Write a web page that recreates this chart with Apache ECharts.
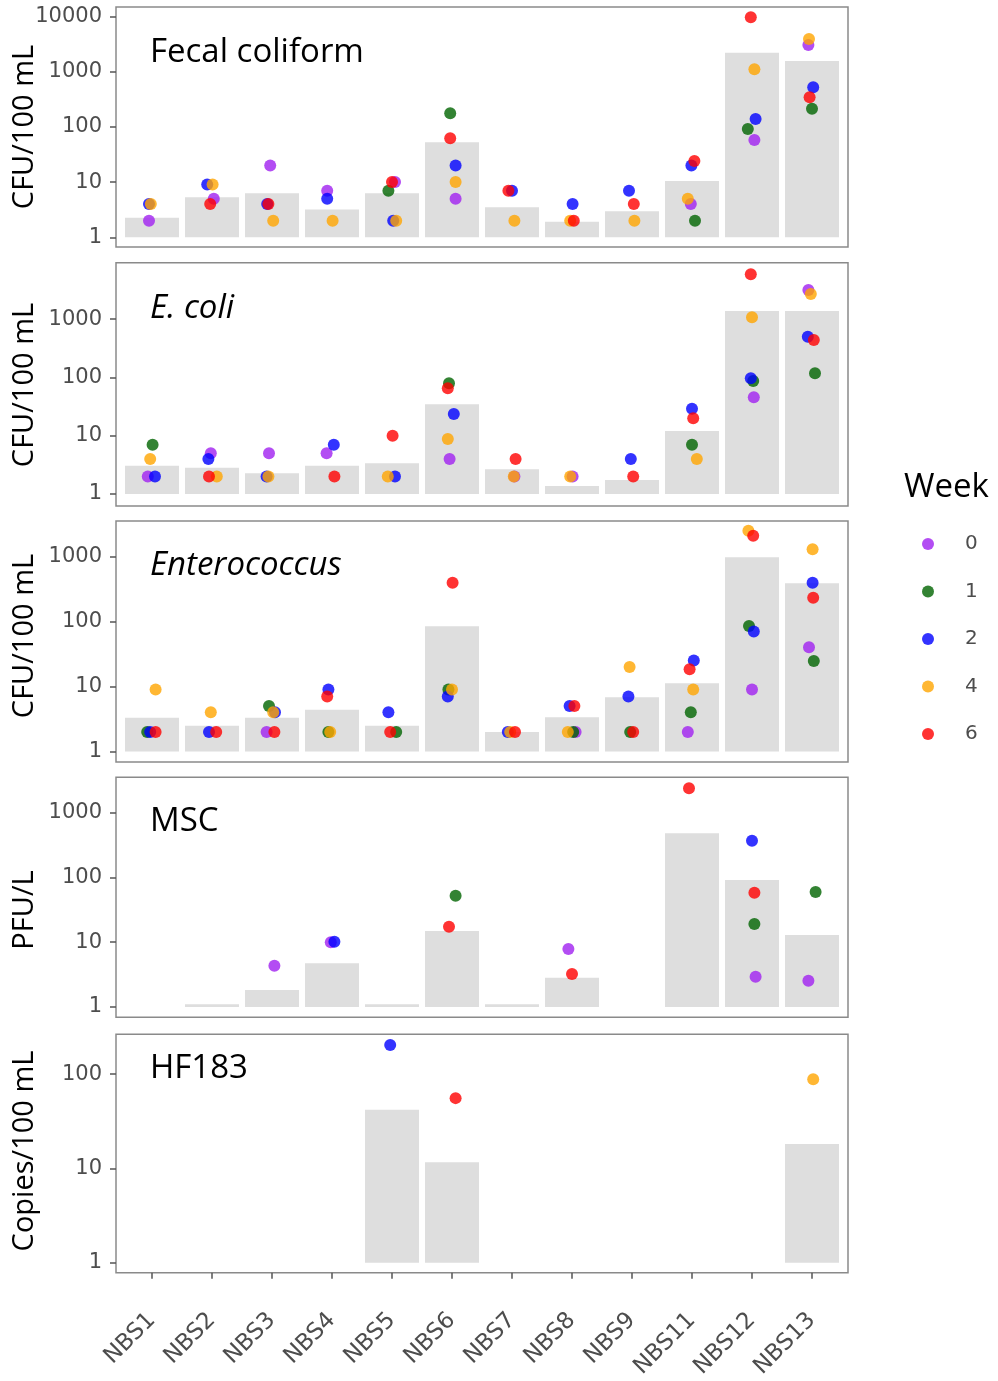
<!DOCTYPE html>
<html><head><meta charset="utf-8">
<script src="https://cdn.jsdelivr.net/npm/echarts@6/dist/echarts.min.js"></script>
<style>html,body{margin:0;padding:0;background:#fff}#c{width:998px;height:1381px}</style>
</head><body><div id="c"></div><script>
// ---------- data ----------
const categories = ["NBS1","NBS2","NBS3","NBS4","NBS5","NBS6","NBS7","NBS8","NBS9","NBS11","NBS12","NBS13"];
const weeks = ["0","1","2","4","6"];
const panelTitles = ["Fecal coliform","E. coli","Enterococcus","MSC","HF183"];
const yTitles = ["CFU/100 mL","CFU/100 mL","CFU/100 mL","PFU/L","Copies/100 mL"];
const yTickValues = [[1,10,100,1000,10000],[1,10,100,1000],[1,10,100,1000],[1,10,100,1000],[1,10,100]];

// Fecal coliform
const fecalBar = [2.26,5.3,6.27,3.2,6.27,52.6,3.5,1.92,2.96,10.5,2208,1563];
const fecalW0 = [2,5,20,7,10,5,null,null,null,4,58,3050];
const fecalW1 = [null,null,null,null,7,176,null,null,null,2,92,214];
const fecalW2 = [4,9,4,5,2,20,7,4,7,20,139,521];
const fecalW4 = [4,9,2,2,2,10,2,2,2,5,1105,3910];
const fecalW6 = [null,4,4,null,10,62,7,2,4,24,9680,344];
const fecalJ0 = [-0.05,0.03,-0.03,-0.08,0.05,0.06,0,0,0,-0.02,0.04,-0.06];
const fecalJ1 = [0,0,0,0,-0.06,-0.03,0,0,0,0.05,-0.07,0];
const fecalJ2 = [-0.05,-0.08,-0.08,-0.08,0.02,0.06,0,0.01,-0.05,-0.01,0.06,0.02];
const fecalJ4 = [-0.02,0.01,0.02,0.01,0.07,0.06,0.04,-0.03,0.04,-0.07,0.04,-0.05];
const fecalJ6 = [0,-0.03,-0.06,0,0,-0.03,-0.06,0.03,0.03,0.04,-0.02,-0.04];

// E. coli
const ecoliBar = [3.06,2.83,2.26,3.06,3.36,34.5,2.65,1.37,1.74,12.0,1377,1377];
const ecoliW0 = [2,5,5,5,null,4,2,2,null,null,45.6,3157];
const ecoliW1 = [7,null,null,null,null,79,null,null,null,7,86.7,117.6];
const ecoliW2 = [2,4,2,7,2,23.6,null,null,4,29,96.5,499];
const ecoliW4 = [4,2,2,null,2,8.8,2,2,null,4,1074,2694];
const ecoliW6 = [null,2,null,2,10,65,4,null,2,20,5870,438];
const ecoliJ0 = [-0.07,-0.02,-0.05,-0.09,0,-0.04,0.04,0.01,0,0,0.03,-0.06];
const ecoliJ1 = [0.01,0,0,0,0,-0.05,0,0,0,0,0.02,0.05];
const ecoliJ2 = [0.05,-0.06,-0.09,0.03,0.05,0.03,0,0,-0.02,0,-0.02,-0.07];
const ecoliJ4 = [-0.03,0.08,-0.06,0,-0.07,-0.07,0.03,-0.03,0,0.08,0,-0.02];
const ecoliJ6 = [0,-0.05,0,0.04,0.01,-0.07,0.06,0,0.02,0.02,-0.02,0.03];

// Enterococcus
const enteroBar = [3.31,2.49,3.31,4.4,2.49,84.4,2.0,3.36,6.8,11.2,972,387];
const enteroW0 = [null,null,2,null,null,null,null,2,null,2,9,40];
const enteroW1 = [2,null,5,2,2,9,null,2,2,4,85,24.7];
const enteroW2 = [2,2,4,9,4,7,2,5,7,25,70,395];
const enteroW4 = [9,4,4,2,null,9,2,2,20,9,2495,1291];
const enteroW6 = [2,2,2,7,2,395,2,5,2,18.4,2090,232];
const enteroJ0 = [0,0,-0.09,0,0,0,0,0.06,0,-0.07,0,-0.05];
const enteroJ1 = [-0.08,0,-0.05,-0.06,0.07,-0.06,0,0.02,-0.03,-0.02,-0.05,0.03];
const enteroJ2 = [-0.03,-0.05,0.05,-0.06,-0.06,-0.07,-0.07,-0.04,-0.06,0.03,0.03,0.01];
const enteroJ4 = [0.06,-0.02,0.02,-0.03,0,0,-0.03,-0.07,-0.04,0.02,-0.06,0.01];
const enteroJ6 = [0.06,0.07,0.04,-0.08,-0.03,0.01,0.05,0.04,0.02,-0.04,0.02,0.02];

// MSC
const mscBar = [null,1.1,1.83,4.72,1.1,14.9,1.1,2.83,null,479,91.2,12.9];
const mscW0 = [null,null,4.34,10,null,null,null,7.85,null,null,2.94,2.55];
const mscW1 = [null,null,null,null,null,52,null,null,null,null,19.1,59.5];
const mscW2 = [null,null,null,10.2,null,null,null,null,null,null,368,null];
const mscW4 = [null,null,null,null,null,null,null,null,null,null,null,null];
const mscW6 = [null,null,null,null,null,17.3,null,3.23,null,2370,58,null];
const mscJ0 = [0,0,0.04,-0.02,0,0,0,-0.06,0,0,0.06,-0.06];
const mscJ1 = [0,0,0,0,0,0.06,0,0,0,0,0.04,0.06];
const mscJ2 = [0,0,0,0.04,0,0,0,0,0,0,0,0];
const mscJ4 = [0,0,0,0,0,0,0,0,0,0,0,0];
const mscJ6 = [0,0,0,0,0,-0.05,0,0,0,-0.05,0.04,0];

// HF183
const hfBar = [null,null,null,null,41.9,11.6,null,null,null,null,null,18.2];
const hfW0 = [null,null,null,null,null,null,null,null,null,null,null,null];
const hfW1 = [null,null,null,null,null,null,null,null,null,null,null,null];
const hfW2 = [null,null,null,null,204,null,null,null,null,null,null,null];
const hfW4 = [null,null,null,null,null,null,null,null,null,null,null,88.5];
const hfW6 = [null,null,null,null,null,55.7,null,null,null,null,null,null];
const hfJ0 = [0,0,0,0,0,0,0,0,0,0,0,0];
const hfJ1 = [0,0,0,0,0,0,0,0,0,0,0,0];
const hfJ2 = [0,0,0,0,-0.03,0,0,0,0,0,0,0];
const hfJ4 = [0,0,0,0,0,0,0,0,0,0,0,0.02];
const hfJ6 = [0,0,0,0,0,0.06,0,0,0,0,0,0];

// ---------- assembly ----------
const panels = [
  {bars: fecalBar, pts: [fecalW0,fecalW1,fecalW2,fecalW4,fecalW6], jit: [fecalJ0,fecalJ1,fecalJ2,fecalJ4,fecalJ6]},
  {bars: ecoliBar, pts: [ecoliW0,ecoliW1,ecoliW2,ecoliW4,ecoliW6], jit: [ecoliJ0,ecoliJ1,ecoliJ2,ecoliJ4,ecoliJ6]},
  {bars: enteroBar, pts: [enteroW0,enteroW1,enteroW2,enteroW4,enteroW6], jit: [enteroJ0,enteroJ1,enteroJ2,enteroJ4,enteroJ6]},
  {bars: mscBar, pts: [mscW0,mscW1,mscW2,mscW4,mscW6], jit: [mscJ0,mscJ1,mscJ2,mscJ4,mscJ6]},
  {bars: hfBar, pts: [hfW0,hfW1,hfW2,hfW4,hfW6], jit: [hfJ0,hfJ1,hfJ2,hfJ4,hfJ6]}
];
// layout: plot-area top/height (px) and log10 range of each panel
const layout = [
  {top: 7,      height: 240,   min: -0.176, max: 4.172, label: 52.5, title: 127},
  {top: 262.7,  height: 243.3, min: -0.206, max: 3.967, label: 309,  title: 385},
  {top: 521,    height: 241,   min: -0.162, max: 3.546, label: 566,  title: 636},
  {top: 777.3,  height: 240,   min: -0.159, max: 3.545, label: 822,  title: 910},
  {top: 1034.3, height: 239,   min: -0.106, max: 2.423, label: 1069, title: 1151}
];
const weekColors = ['#a020f0','#006400','#0000ff','#ffa500','#ff0000'];
const L = v => Math.log10(v);
const tickFont = 'DejaVu Sans';
const textFont = 'Open Sans';

const grid = [], xAxis = [], yAxis = [], series = [], graphic = [];
layout.forEach((g, p) => {
  grid.push({left: 116, width: 732, top: g.top, height: g.height, show: true,
    borderColor: '#8a8a8a', borderWidth: 1.5, backgroundColor: '#fff', containLabel: false});
  const last = p === layout.length - 1;
  xAxis.push({type: 'value', gridIndex: p, min: -0.6, max: 11.6, position: 'bottom',
    splitLine: {show: false}, axisLine: {show: false, onZero: false},
    axisTick: {show: last, length: 6, lineStyle: {color: '#555', width: 1.5},
      customValues: categories.map((c, i) => i)},
    axisLabel: {show: last, customValues: categories.map((c, i) => i), rotate: 45,
      formatter: v => categories[Math.round(v)], fontFamily: tickFont, fontSize: 23,
      color: '#4d4d4d', margin: 44}});
  yAxis.push({type: 'value', gridIndex: p, min: g.min, max: g.max, position: 'left',
    splitLine: {show: false}, axisLine: {show: false, onZero: false},
    axisTick: {show: true, length: 6, lineStyle: {color: '#555', width: 1.5},
      customValues: yTickValues[p].map(L)},
    axisLabel: {customValues: yTickValues[p].map(L),
      formatter: v => String(Math.round(Math.pow(10, v))),
      fontFamily: tickFont, fontSize: 21, color: '#4d4d4d', margin: 14}});
  const pan = panels[p];
  series.push({type: 'bar', xAxisIndex: p, yAxisIndex: p, barWidth: 54, silent: true,
    itemStyle: {color: '#dedede'},
    data: pan.bars.map((v, i) => v == null ? null : [i, L(v)]).filter(d => d)});
  weeks.forEach((w, k) => {
    series.push({type: 'scatter', name: w, xAxisIndex: p, yAxisIndex: p,
      symbol: 'circle', symbolSize: 12,
      itemStyle: {color: weekColors[k], opacity: 0.8},
      data: pan.pts[k].map((v, i) => v == null ? null : [i + pan.jit[k][i], L(v)]).filter(d => d)});
  });
  const italic = (p === 1 || p === 2);
  graphic.push({type: 'text', x: 150, y: g.label, style: {text: panelTitles[p],
    font: (italic ? 'italic ' : '') + '33px "' + textFont + '"', fill: '#000', verticalAlign: 'middle', align: 'left'}});
  graphic.push({type: 'text', x: 25, y: g.title, rotation: Math.PI / 2, style: {text: yTitles[p],
    font: '29px "' + textFont + '"', fill: '#000', verticalAlign: 'middle', align: 'center'}});
});
graphic.push({type: 'text', x: 904, y: 487.5, style: {text: 'Week',
  font: '33px "' + textFont + '"', fill: '#000', verticalAlign: 'middle', align: 'left'}});

const chart = echarts.init(document.getElementById('c'), null, {renderer: 'canvas'});
chart.setOption({
  animation: false,
  backgroundColor: '#fff',
  grid, xAxis, yAxis, series, graphic,
  legend: {data: weeks.map(n => ({name: n, icon: 'circle'})), orient: 'vertical',
    left: 917, top: 529, itemWidth: 12, itemHeight: 12, itemGap: 27.5, selectedMode: false,
    textStyle: {fontFamily: tickFont, fontSize: 20, color: '#4d4d4d', lineHeight: 20, padding: [0, 0, 0, 26]}}
});
</script></body></html>
